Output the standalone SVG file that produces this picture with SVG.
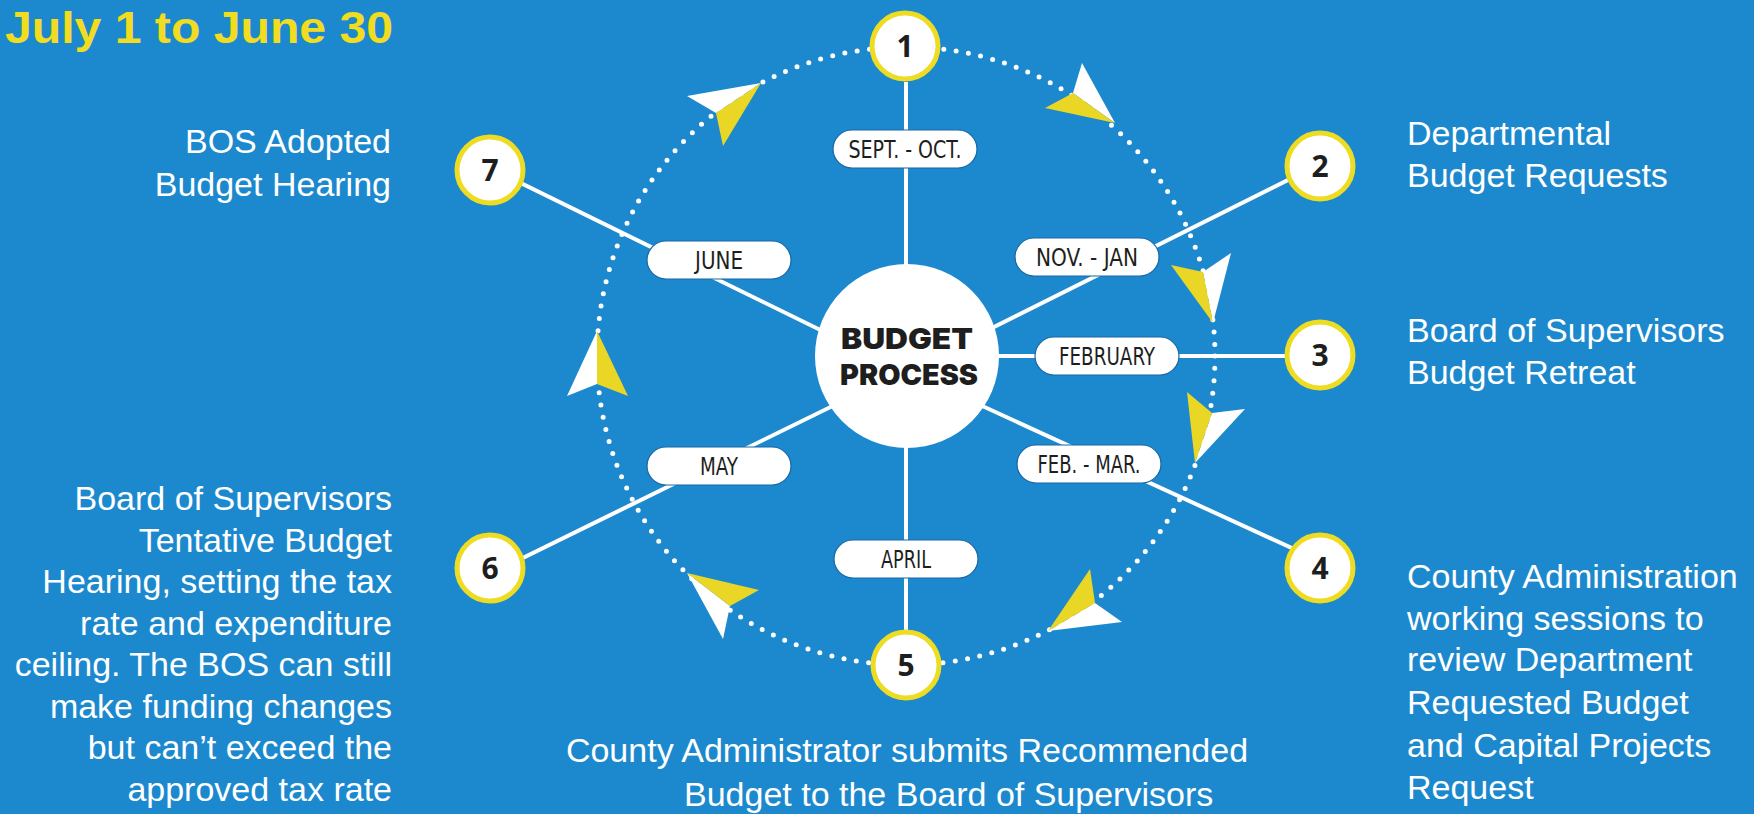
<svg xmlns="http://www.w3.org/2000/svg" width="1754" height="814" viewBox="0 0 1754 814">
<defs>
<style>
.bg{fill:#1C89CE}
.spoke{stroke:#FFFFFF;stroke-width:4;fill:none}
.dots{stroke:#FFFFFF;stroke-width:5;fill:none;stroke-linecap:round;stroke-dasharray:0 12.446}
.aw{fill:#FFFFFF}
.ay{fill:#EAD625}
.num{fill:#FFFFFF;stroke:#EEDC22;stroke-width:5}
.numt{font-family:"Open Sans","DejaVu Sans",sans-serif;font-weight:700;font-size:30px;fill:#1E1E1E;text-anchor:middle}
.pill{fill:#FFFFFF;stroke:#1767A6;stroke-width:1.2}
.pillt{font-family:"Liberation Sans Narrow","DejaVu Sans Condensed","Liberation Sans",sans-serif;font-size:25px;fill:#1E1E1E;text-anchor:middle}
.desc{font-family:"Liberation Sans",Arial,sans-serif;font-size:34px;fill:#FFFFFF}
.r{text-anchor:end}
.title{font-family:"Liberation Sans",Arial,sans-serif;font-weight:700;font-size:44px;fill:#F1DC22}
.core{font-family:Inter,Lato,"DejaVu Sans",sans-serif;font-weight:900;font-size:29px;fill:#1E1E1E;text-anchor:middle}
</style>
</defs>
<rect class="bg" x="0" y="0" width="1754" height="814"/>

<g id="connectors">
  <line class="spoke" x1="906" y1="82" x2="906" y2="356"/>
  <line class="spoke" x1="1320" y1="164" x2="906" y2="371"/>
  <line class="spoke" x1="906" y1="356" x2="1320" y2="356"/>
  <line class="spoke" x1="906" y1="371" x2="1320" y2="561"/>
  <line class="spoke" x1="906" y1="356" x2="906" y2="666"/>
  <line class="spoke" x1="906" y1="370" x2="490" y2="574"/>
  <line class="spoke" x1="906" y1="372" x2="490" y2="168"/>
  <circle class="dots" cx="906" cy="356" r="309"/>
  <g id="arrow-1-2"><polygon class="aw" points="1115,123 1082,63 1073,93"/><polygon class="ay" points="1115,123 1073,93 1045,108"/></g>
  <g id="arrow-2-3"><polygon class="aw" points="1213,323 1231,253 1203,272"/><polygon class="ay" points="1213,323 1203,272 1171,265"/></g>
  <g id="arrow-3-4"><polygon class="aw" points="1195,463 1245,409 1212,413"/><polygon class="ay" points="1195,463 1212,413 1187,392"/></g>
  <g id="arrow-4-5"><polygon class="aw" points="1048,631 1122,622 1095,603"/><polygon class="ay" points="1048,631 1095,603 1090,569"/></g>
  <g id="arrow-5-6"><polygon class="aw" points="687,573 723,639 730,606"/><polygon class="ay" points="687,573 730,606 759,590"/></g>
  <g id="arrow-6-7"><polygon class="aw" points="597,331 567,396 597,384"/><polygon class="ay" points="597,331 597,384 628,396"/></g>
  <g id="arrow-7-1"><polygon class="aw" points="761,83 687,96 716,113"/><polygon class="ay" points="761,83 716,113 723,146"/></g>
</g>

<g id="label-sept-oct"><rect class="pill" x="833" y="130" width="144" height="38" rx="19"/><text class="pillt" x="905" y="158" textLength="113" lengthAdjust="spacingAndGlyphs">SEPT. - OCT.</text></g>
<g id="label-nov-jan"><rect class="pill" x="1015" y="238" width="144" height="38" rx="19"/><text class="pillt" x="1087" y="266" textLength="102" lengthAdjust="spacingAndGlyphs">NOV. - JAN</text></g>
<g id="label-february"><rect class="pill" x="1035" y="337" width="144" height="38" rx="19"/><text class="pillt" x="1107" y="365" textLength="96" lengthAdjust="spacingAndGlyphs">FEBRUARY</text></g>
<g id="label-feb-mar"><rect class="pill" x="1017" y="445" width="144" height="38" rx="19"/><text class="pillt" x="1089" y="473" textLength="103" lengthAdjust="spacingAndGlyphs">FEB. - MAR.</text></g>
<g id="label-april"><rect class="pill" x="834" y="540" width="144" height="38" rx="19"/><text class="pillt" x="906" y="568" textLength="50" lengthAdjust="spacingAndGlyphs">APRIL</text></g>
<g id="label-may"><rect class="pill" x="647" y="447" width="144" height="38" rx="19"/><text class="pillt" x="719" y="475" textLength="38" lengthAdjust="spacingAndGlyphs">MAY</text></g>
<g id="label-june"><rect class="pill" x="647" y="241" width="144" height="38" rx="19"/><text class="pillt" x="719" y="269" textLength="48" lengthAdjust="spacingAndGlyphs">JUNE</text></g>

<g id="budget-process">
  <circle cx="907" cy="356" r="92" fill="#FFFFFF"/>
  <text class="core" x="907" y="349" textLength="132" lengthAdjust="spacingAndGlyphs">BUDGET</text>
  <text class="core" x="909" y="385" textLength="138" lengthAdjust="spacingAndGlyphs">PROCESS</text>
</g>

<g id="node-1"><circle class="num" cx="905" cy="46" r="33"/><text class="numt" x="905" y="57">1</text></g>
<g id="node-2"><circle class="num" cx="1320" cy="166" r="33"/><text class="numt" x="1320" y="177">2</text></g>
<g id="node-3"><circle class="num" cx="1320" cy="355" r="33"/><text class="numt" x="1320" y="366">3</text></g>
<g id="node-4"><circle class="num" cx="1320" cy="568" r="33"/><text class="numt" x="1320" y="579">4</text></g>
<g id="node-5"><circle class="num" cx="906" cy="665" r="33"/><text class="numt" x="906" y="676">5</text></g>
<g id="node-6"><circle class="num" cx="490" cy="568" r="33"/><text class="numt" x="490" y="579">6</text></g>
<g id="node-7"><circle class="num" cx="490" cy="170" r="33"/><text class="numt" x="490" y="181">7</text></g>

<g id="title"><text class="title" x="5" y="43" textLength="388" lengthAdjust="spacingAndGlyphs">July 1 to June 30</text></g>

<g id="desc-7">
  <text class="desc r" x="391" y="153">BOS Adopted</text>
  <text class="desc r" x="391" y="196">Budget Hearing</text>
</g>
<g id="desc-2">
  <text class="desc" x="1407" y="145">Departmental</text>
  <text class="desc" x="1407" y="187">Budget Requests</text>
</g>
<g id="desc-3">
  <text class="desc" x="1407" y="342">Board of Supervisors</text>
  <text class="desc" x="1407" y="384">Budget Retreat</text>
</g>
<g id="desc-4">
  <text class="desc" x="1407" y="588">County Administration</text>
  <text class="desc" x="1407" y="630">working sessions to</text>
  <text class="desc" x="1407" y="671">review Department</text>
  <text class="desc" x="1407" y="714">Requested Budget</text>
  <text class="desc" x="1407" y="757">and Capital Projects</text>
  <text class="desc" x="1407" y="799">Request</text>
</g>
<g id="desc-6">
  <text class="desc r" x="392" y="510">Board of Supervisors</text>
  <text class="desc r" x="392" y="552">Tentative Budget</text>
  <text class="desc r" x="392" y="593">Hearing, setting the tax</text>
  <text class="desc r" x="392" y="635">rate and expenditure</text>
  <text class="desc r" x="392" y="676">ceiling. The BOS can still</text>
  <text class="desc r" x="392" y="718">make funding changes</text>
  <text class="desc r" x="392" y="759">but can’t exceed the</text>
  <text class="desc r" x="392" y="801">approved tax rate</text>
</g>
<g id="desc-5">
  <text class="desc" x="907" y="762" text-anchor="middle">County Administrator submits Recommended</text>
  <text class="desc" x="684" y="806">Budget to the Board of Supervisors</text>
</g>
</svg>
